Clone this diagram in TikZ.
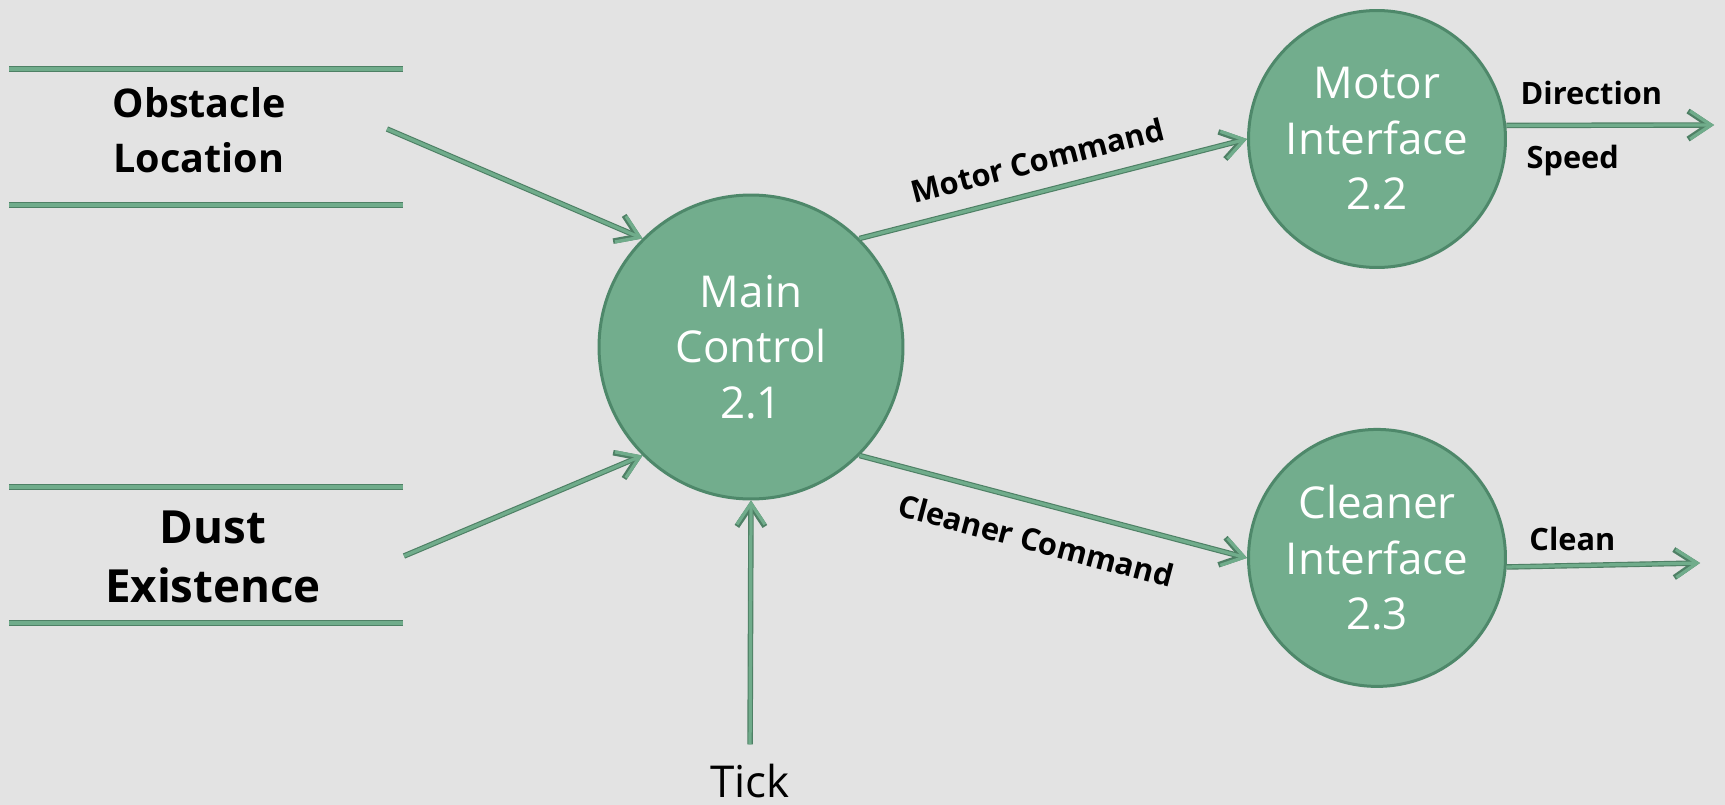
\documentclass[tikz,border=0pt]{standalone}
\usepackage{fontspec}
\setmainfont{Open Sans}
\usetikzlibrary{arrows.meta, positioning}

\definecolor{bubble}{RGB}{114,173,141}
\definecolor{bubbleedge}{RGB}{78,136,106}
\definecolor{flowdark}{RGB}{78,128,101}
\definecolor{flowlight}{RGB}{112,172,139}
\definecolor{paper}{RGB}{227,227,227}

\begin{document}
\begin{tikzpicture}[
    x=0.02cm, y=-0.02cm,
    proc/.style={circle, draw=bubbleedge, line width=0.06cm, fill=bubble, text=white, align=center, inner sep=0pt, font=\fontsize{25}{31.6}\selectfont},
    store/.style={align=center, inner sep=0pt, font=\bfseries\fontsize{22.5}{31.3}\selectfont},
    storeline/.style={line width=0.12cm, draw=flowdark, postaction={draw=flowlight, line width=0.07cm}},
    flow/.style={-{Straight Barb[length=0.42cm, width=0.56cm]}, line width=0.11cm, draw=flowdark, postaction={draw=flowlight, line width=0.065cm}},
    lbl/.style={font=\bfseries\fontsize{17.5}{20}\selectfont, inner sep=0pt}]
    % background
    \fill[paper] (0,0) rectangle (1725,805);

    % Stores
    \foreach \y in {69,205,487,623}
        \draw[storeline] (9,\y) -- (403,\y);
    \node[store] (obst) at (199,130) {Obstacle\\Location};
    \node[store, font=\bfseries\fontsize{26}{33.6}\selectfont] (dust) at (213,557) {Dust\\Existence};
    \coordinate (obst-out) at (387,129);
    \coordinate (dust-out) at (404,556);

    % Processes
    \node[proc, minimum size=6.08cm] (main) at (751,347) {Main\\Control\\2.1};
    \node[proc, minimum size=5.14cm] (motor) at (1377,139) {Motor\\Interface\\2.2};
    \node[proc, minimum size=5.14cm, below=3.18cm of motor] (cleaner) {Cleaner\\Interface\\2.3};
    \node[font=\fontsize{25}{30}\selectfont, inner sep=0pt, anchor=base] (tick) at (750,797) {Tick};
    \coordinate (motor-out) at (1714,125);
    \coordinate (clean-out) at (1700,563);

    % Arrows
    \draw[flow] (obst-out) -- (main.135);
    \draw[flow] (dust-out) -- (main.-135);
    \draw[flow, shorten <=0.38cm] (tick.north) -- (main.south);
    \draw[flow] (main.45) -- node[lbl, sloped, pos=0.48, anchor=south, outer sep=0.39cm] {Motor Command} (motor.west);
    \draw[flow] (main.-45) -- node[lbl, sloped, pos=0.48, anchor=north, outer sep=0.5cm] {Cleaner Command} (cleaner.west);
    \draw[flow] (motor.6) -- node[lbl, pos=0.41, anchor=south, outer sep=0.4cm] {Direction}
        node[lbl, pos=0.32, anchor=north, outer sep=0.39cm] {Speed} (motor-out);
    \draw[flow] (cleaner.-4) -- node[lbl, pos=0.34, anchor=south, outer sep=0.3cm] {Clean} (clean-out);
\end{tikzpicture}
\end{document}
